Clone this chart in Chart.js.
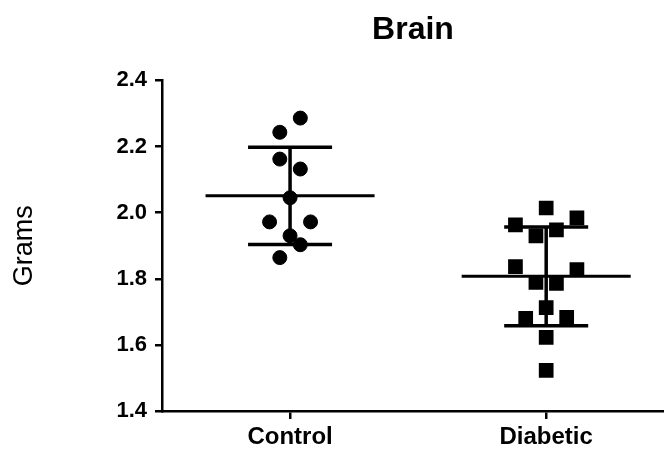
<!DOCTYPE html>
<html>
<head>
<meta charset="utf-8">
<script src="https://cdn.jsdelivr.net/npm/chart.js@4"></script>
<style>
html,body{margin:0;padding:0;background:#fff;overflow:hidden;}
#wrap{width:664px;height:450px;position:relative;}
canvas{display:block;}
</style>
</head>
<body>
<div id="wrap"><canvas id="c"></canvas></div>
<script>
// ---- data ----
const categories = ["Control", "Diabetic"];
const controlValues  = [2.286, 2.243, 2.162, 2.132, 2.045, 1.972, 1.972, 1.930, 1.903, 1.864];
const controlJitter  = [1, -1, -1, 1, 0, -2, 2, 0, 1, -1];
const diabeticValues = [2.014, 1.963, 1.984, 1.930, 1.948, 1.837, 1.828, 1.789, 1.786, 1.713, 1.680, 1.683, 1.623, 1.523];
const diabeticJitter = [0, -3, 3, -1, 1, -3, 3, -1, 1, 0, -2, 2, 0, 0];
const yTicks = [1.4, 1.6, 1.8, 2.0, 2.2, 2.4];
const chartTitle = "Brain";
const yTitle = "Grams";

// ---- helpers ----
const JITTER_STEP = 0.04;
const MEAN_HALF = 0.33;
const CAP_HALF = 0.164;
function mean(a){ return a.reduce((s,v)=>s+v,0)/a.length; }
function sd(a){ const m=mean(a); return Math.sqrt(a.reduce((s,v)=>s+(v-m)*(v-m),0)/(a.length-1)); }

function pointsOf(values, jitter, xc){
  return values.map((v,i)=>({x: xc + jitter[i]*JITTER_STEP, y: v}));
}
function seg(x1,y1,x2,y2,w){
  return {type:'line', data:[{x:x1,y:y1},{x:x2,y:y2}], borderColor:'#000', borderWidth:w,
          pointRadius:0, pointHoverRadius:0, fill:false, tension:0, borderCapStyle:'butt'};
}
function summary(values, xc){
  const m = mean(values), s = sd(values);
  return [
    seg(xc-MEAN_HALF, m, xc+MEAN_HALF, m, 3),
    seg(xc, m-s, xc, m+s, 3.5),
    seg(xc-CAP_HALF, m+s, xc+CAP_HALF, m+s, 3.5),
    seg(xc-CAP_HALF, m-s, xc+CAP_HALF, m-s, 3.5)
  ];
}

const datasets = [
  {type:'scatter', data: pointsOf(controlValues, controlJitter, 0), pointStyle:'circle',
   pointRadius:7, pointBorderWidth:1, backgroundColor:'#000', borderColor:'#000'},
  {type:'scatter', data: pointsOf(diabeticValues, diabeticJitter, 1), pointStyle:'rect',
   pointRadius:10.4, pointBorderWidth:0, backgroundColor:'#000', borderColor:'#000'},
  ...summary(controlValues, 0),
  ...summary(diabeticValues, 1)
];

const FONT = "'Liberation Sans', Arial, sans-serif";

new Chart(document.getElementById('c'), {
  data: { datasets },
  options: {
    responsive: true,
    maintainAspectRatio: false,
    animation: false,
    layout: { padding: 0, autoPadding: false },
    plugins: {
      legend: { display: false },
      tooltip: { enabled: false },
      title: {
        display: true, text: chartTitle, color:'#000', fullSize: false,
        font: { family: FONT, size: 32, weight: 'bold' },
        padding: { top: 11, bottom: 31 }
      }
    },
    scales: {
      x: {
        type: 'linear', min: -0.5, max: 1.46,
        afterBuildTicks: (s) => { s.ticks = categories.map((c,i)=>({value:i})); },
        afterFit: (s) => { s.height = 39; s.paddingLeft = 0; s.paddingRight = 0; },
        ticks: {
          callback: (v) => categories[v] !== undefined ? categories[v] : '',
          color:'#000', font: { family: FONT, size: 24, weight: 'bold' }, padding: 4, maxRotation:0
        },
        grid: { drawOnChartArea: false, drawTicks: true, tickLength: 8, color:'#000', lineWidth: 2.5 },
        border: { display: true, color:'#000', width: 2.5 }
      },
      y: {
        type: 'linear', min: 1.4, max: 2.4,
        afterBuildTicks: (s) => { s.ticks = yTicks.map(v=>({value:v})); },
        afterFit: (s) => { s.width = 162; },
        ticks: {
          callback: (v) => Number(v).toFixed(1),
          color:'#000', font: { family: FONT, size: 22, weight: 'bold' }, padding: 8
        },
        grid: { drawOnChartArea: false, drawTicks: true, tickLength: 7, color:'#000', lineWidth: 2.5 },
        border: { display: true, color:'#000', width: 2.5 },
        title: {
          display: true, text: yTitle, color:'#000',
          font: { family: FONT, size: 27, weight: 'normal' },
          padding: { top: 8 }
        }
      }
    }
  }
});
</script>
</body>
</html>
